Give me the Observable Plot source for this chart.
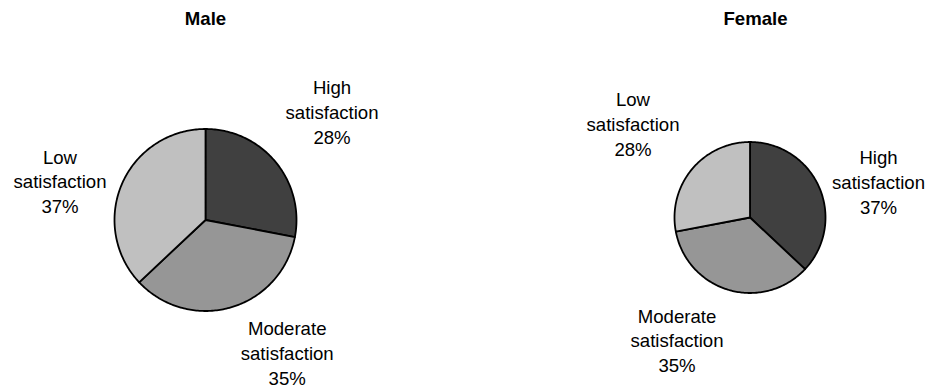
<!DOCTYPE html>
<html>
<head>
<meta charset="utf-8">
<script src="https://cdn.jsdelivr.net/npm/d3@7"></script>
<script src="https://cdn.jsdelivr.net/npm/@observablehq/plot@0.6"></script>
<style>
  html, body { margin: 0; padding: 0; background: #fff; }
  #chart { width: 930px; height: 389px; }
</style>
</head>
<body>
<div id="chart"></div>
<script>
// Satisfaction shares (%) by group, slices drawn clockwise from 12 o'clock
const groups = ["Male", "Female"];
const categories = ["High satisfaction", "Moderate satisfaction", "Low satisfaction"];
const maleShares = [28, 35, 37];
const femaleShares = [37, 35, 28];

// Slice fills per category
const sliceColors = ["#404040", "#969696", "#c0c0c0"];

// Layout: pie centres/radii and label anchors (pixel space)
const layout = {
  Male: {
    cx: 205, cy: 219.5, r: 91, titleX: 205,
    labels: [[331.5, 110.7], [286.7, 351.7], [59.5, 180]]
  },
  Female: {
    cx: 749.5, cy: 217, r: 75.5, titleX: 755,
    labels: [[878, 180.7], [676.5, 339], [632.5, 122.3]]
  }
};

const sharesByGroup = {Male: maleShares, Female: femaleShares};

// Build closed slice outlines: centre -> arc -> centre
const slicePoints = [];
const labelRows = [];
for (const g of groups) {
  const {cx, cy, r, labels} = layout[g];
  const shares = sharesByGroup[g];
  const total = d3.sum(shares);
  let acc = 0;
  shares.forEach((v, i) => {
    const a0 = (acc / total) * 2 * Math.PI;
    acc += v;
    const a1 = (acc / total) * 2 * Math.PI;
    const key = `${g}-${i}`;
    const color = sliceColors[i];
    slicePoints.push({key, color, x: cx, y: cy});
    const steps = Math.max(2, Math.ceil((a1 - a0) / (Math.PI / 180)));
    for (let s = 0; s <= steps; ++s) {
      const a = a0 + (a1 - a0) * s / steps;
      slicePoints.push({key, color, x: cx + r * Math.sin(a), y: cy - r * Math.cos(a)});
    }
    slicePoints.push({key, color, x: cx, y: cy});
    labelRows.push({
      x: labels[i][0], y: labels[i][1],
      text: `${categories[i].replace(" ", "\n")}\n${v}%`
    });
  });
}

const titles = groups.map(g => ({x: layout[g].titleX, y: 19, text: g}));

const chart = Plot.plot({
  width: 930,
  height: 389,
  margin: 0,
  x: {domain: [0, 930], range: [0, 930], axis: null},
  y: {domain: [0, 389], range: [0, 389], axis: null},
  color: {type: "identity"},
  style: {fontFamily: "'Liberation Sans', Arial, sans-serif", background: "#fff"},
  marks: [
    Plot.line(slicePoints, {
      x: "x", y: "y", z: "key", fill: "color",
      stroke: "#000", strokeWidth: 1.8, strokeLinejoin: "round", curve: "linear"
    }),
    Plot.text(labelRows, {
      x: "x", y: "y", text: "text",
      fontSize: 18.6, lineHeight: 1.34, textAnchor: "middle", fill: "#000"
    }),
    Plot.text(titles, {
      x: "x", y: "y", text: "text",
      fontSize: 18.6, fontWeight: "bold", textAnchor: "middle", fill: "#000"
    })
  ]
});

document.getElementById("chart").appendChild(chart);
</script>
</body>
</html>
